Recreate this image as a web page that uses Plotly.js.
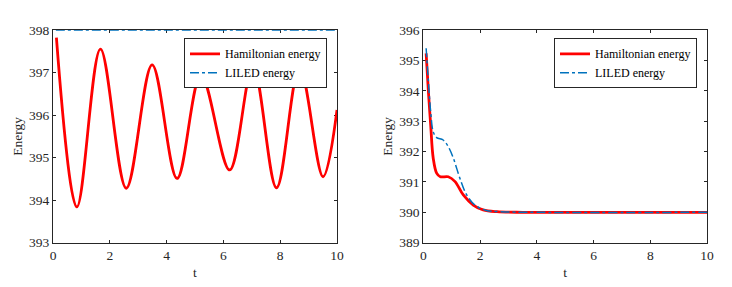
<!DOCTYPE html>
<html>
<head>
<meta charset="utf-8">
<script src="https://cdn.plot.ly/plotly-3.0.1.min.js"></script>
<style>html,body{margin:0;padding:0;background:#fff;}#chart{width:732px;height:287px;}</style>
</head>
<body>
<div id="chart"></div>
<script>
// Left panel
const tLeftH = [0.12, 0.84, 1.67, 2.58, 3.49, 4.37, 5.21, 6.22, 7.04, 7.87, 8.68, 9.51, 10];
const eLeftH = [397.82, 393.84, 397.55, 394.28, 397.18, 394.51, 396.94, 394.71, 397.15, 394.29, 397.12, 394.55, 396.12];
const tLeftL = [0.1, 10];
const eLeftL = [398, 398];
// Right panel
const tRightH = [0.1, 0.18, 0.26, 0.35, 0.47, 0.6, 0.88, 1.12, 1.41, 1.76, 2.11, 2.6, 3.5, 5, 10];
const eRightH = [395.23, 393.97, 392.88, 391.78, 391.29, 391.17, 391.17, 391.01, 390.57, 390.24, 390.08, 390.02, 390.0, 390.0, 390.0];
const tRightL = [0.1, 0.18, 0.26, 0.35, 0.47, 0.7, 0.88, 1.06, 1.29, 1.53, 1.82, 2.22, 2.7, 4, 10];
const eRightL = [395.4, 394.3, 393.31, 392.65, 392.46, 392.38, 392.16, 391.78, 391.12, 390.57, 390.24, 390.06, 390.02, 390.0, 390.0];
const xTicks = [0, 2, 4, 6, 8, 10];
const names = ['Hamiltonian energy', 'LILED energy'];

const red = '#FF0000', blue = '#0072BD', axc = '#262626';
const fam = '"Liberation Serif", "Times New Roman", serif';
const tickFont = {family: fam, size: 13.5, color: axc};
const titleFont = {family: fam, size: 13.5, color: axc};

const traces = [
  {x: tLeftH, y: eLeftH, name: names[0], mode: 'lines', line: {color: red, width: 2.8, shape: 'spline'}, xaxis: 'x', yaxis: 'y', legend: 'legend'},
  {x: tLeftL, y: eLeftL, name: names[1], mode: 'lines', line: {color: blue, width: 1.5, dash: 'dashdot'}, xaxis: 'x', yaxis: 'y', legend: 'legend', cliponaxis: false},
  {x: tRightH, y: eRightH, name: names[0], mode: 'lines', line: {color: red, width: 2.8, shape: 'spline'}, xaxis: 'x2', yaxis: 'y2', legend: 'legend2'},
  {x: tRightL, y: eRightL, name: names[1], mode: 'lines', line: {color: blue, width: 1.5, dash: 'dashdot', shape: 'spline'}, xaxis: 'x2', yaxis: 'y2', legend: 'legend2'}
];

function xax(dom) {
  return {domain: dom, range: [0, 10], tickvals: xTicks, ticks: 'inside', ticklen: 3, tickcolor: axc,
    showline: true, linecolor: axc, linewidth: 1, mirror: 'allticks', showgrid: false, zeroline: false,
    tickfont: tickFont, title: {text: 't', font: titleFont, standoff: 5}, layer: 'below traces'};
}
function yax(dom, range, anchor) {
  return {domain: dom, range: range, dtick: 1, ticks: 'inside', ticklen: 3, tickcolor: axc,
    showline: true, linecolor: axc, linewidth: 1, mirror: 'allticks', showgrid: false, zeroline: false,
    tickfont: tickFont, title: {text: 'Energy', font: titleFont, standoff: 3}, anchor: anchor, layer: 'below traces'};
}
const yd = [1 - 242.7 / 287, 1 - 30 / 287];
const leg = (x) => ({x: x, y: 1 - 38.3 / 287, xanchor: 'right', yanchor: 'top', bgcolor: '#fff',
  bordercolor: axc, borderwidth: 1, font: {family: fam, size: 12, color: '#000'}, tracegroupgap: 0, itemwidth: 30});

const layout = {
  width: 732, height: 287, margin: {l: 0, r: 0, t: 0, b: 0}, paper_bgcolor: '#fff', plot_bgcolor: '#fff',
  showlegend: true, font: tickFont,
  xaxis: Object.assign(xax([53 / 732, 337 / 732]), {anchor: 'y'}),
  yaxis: yax(yd, [393, 398], 'x'),
  xaxis2: Object.assign(xax([423.3 / 732, 707 / 732]), {anchor: 'y2'}),
  yaxis2: yax(yd, [389, 396], 'x2'),
  legend: leg(327 / 732),
  legend2: leg(697 / 732)
};
Plotly.newPlot('chart', traces, layout, {staticPlot: true});
</script>
</body>
</html>
